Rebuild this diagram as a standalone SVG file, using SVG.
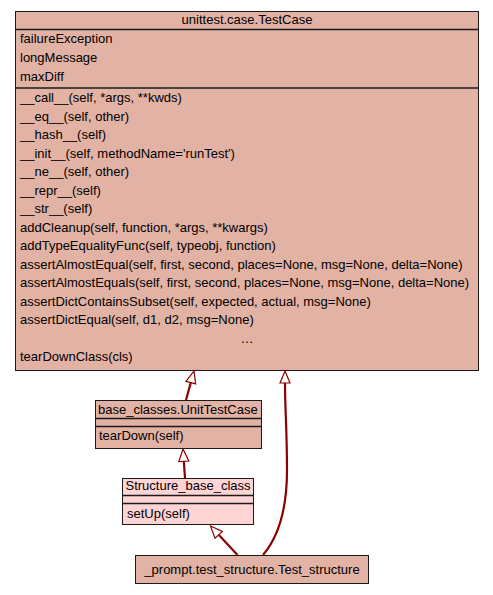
<svg xmlns="http://www.w3.org/2000/svg" width="493" height="595" viewBox="0 0 493 595">
<style>
  .box { fill: #e2b2a4; stroke: #1a1a1a; stroke-width: 1; }
  .boxl { fill: #fed4d4; stroke: #1a1a1a; stroke-width: 1; }
  .sep { stroke: #1a1a1a; stroke-width: 1.5; }
  text { font-family: "Liberation Sans", Arial, sans-serif; font-size: 13px; fill: #000; }
  .c { text-anchor: middle; }
  .edge { fill: none; stroke: #8b0000; stroke-width: 2.2; }
  .head { fill: #ffffff; stroke: #8b0000; stroke-width: 1.2; }
</style>
<rect width="493" height="595" fill="#ffffff"/>

<g id="node-TestCase">
  <rect class="box" x="15.5" y="11.5" width="463" height="359"/>
  <line class="sep" x1="15.5" y1="29.5" x2="478.5" y2="29.5"/>
  <line class="sep" x1="15.5" y1="88" x2="478.5" y2="88"/>
  <text class="c" x="247" y="24">unittest.case.TestCase</text>
  <text x="20" y="43">failureException</text>
  <text x="20" y="62">longMessage</text>
  <text x="20" y="80.5">maxDiff</text>
  <text x="20" y="102">__call__(self, *args, **kwds)</text>
  <text x="20" y="120.5">__eq__(self, other)</text>
  <text x="20" y="139">__hash__(self)</text>
  <text x="20" y="157.5">__init__(self, methodName='runTest')</text>
  <text x="20" y="176">__ne__(self, other)</text>
  <text x="20" y="194.5">__repr__(self)</text>
  <text x="20" y="213">__str__(self)</text>
  <text x="20" y="231.5">addCleanup(self, function, *args, **kwargs)</text>
  <text x="20" y="250">addTypeEqualityFunc(self, typeobj, function)</text>
  <text x="20" y="268.5">assertAlmostEqual(self, first, second, places=None, msg=None, delta=None)</text>
  <text x="20" y="287">assertAlmostEquals(self, first, second, places=None, msg=None, delta=None)</text>
  <text x="20" y="305.5">assertDictContainsSubset(self, expected, actual, msg=None)</text>
  <text x="20" y="324">assertDictEqual(self, d1, d2, msg=None)</text>
  <text class="c" x="247" y="342.5">…</text>
  <text x="20" y="361">tearDownClass(cls)</text>
</g>

<g id="node-UnitTestCase">
  <rect class="box" x="95.5" y="400.5" width="166" height="48"/>
  <line class="sep" x1="95.5" y1="418.5" x2="261.5" y2="418.5"/>
  <line class="sep" x1="95.5" y1="426.5" x2="261.5" y2="426.5"/>
  <text x="98" y="413.5">base_classes.UnitTestCase</text>
  <text x="99" y="440">tearDown(self)</text>
</g>

<g id="node-Structure_base_class">
  <rect class="boxl" x="122.5" y="478.5" width="131" height="46"/>
  <line class="sep" x1="122.5" y1="495.5" x2="253.5" y2="495.5"/>
  <line class="sep" x1="122.5" y1="503.5" x2="253.5" y2="503.5"/>
  <text x="125.5" y="490">Structure_base_class</text>
  <text x="127" y="518">setUp(self)</text>
</g>

<g id="node-Test_structure">
  <rect class="box" x="135.5" y="555.5" width="233" height="28"/>
  <text class="c" x="252" y="573.5">_prompt.test_structure.Test_structure</text>
</g>

<g id="connectors">
  <path class="edge" d="M186,400 L190.8,382.6"/>
  <polygon class="head" points="194,371 195.6,383.9 186,381.3"/>
  <path class="edge" d="M185,478 L183.8,461"/>
  <polygon class="head" points="183,449 188.8,461 178.8,461.6"/>
  <path class="edge" d="M237.5,555 L218.7,534.8"/>
  <polygon class="head" points="210.5,526 222.4,531.4 215,538.2"/>
  <path class="edge" d="M263,555 C280,535 287,505 287,470 C287,430 285,410 285,383"/>
  <polygon class="head" points="285,371 290,383 280,383"/>
</g>
</svg>
